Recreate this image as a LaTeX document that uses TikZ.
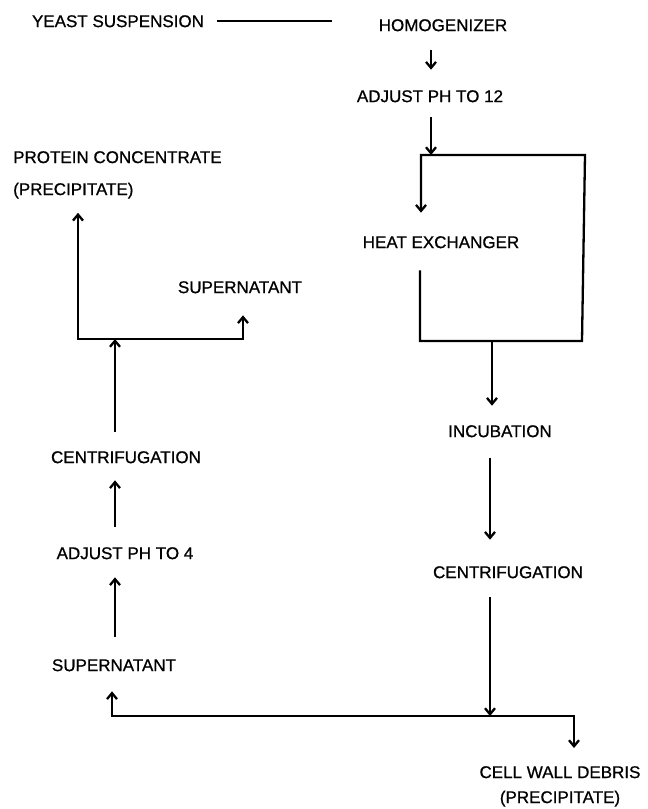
\documentclass[tikz,border=0pt]{standalone}
\usepackage{fontspec}
\setmainfont{Liberation Sans}
\newfontfamily\procfont{Liberation Sans}[FakeBold=0.8]
\usetikzlibrary{arrows.meta}

\begin{document}
\begin{tikzpicture}[
  x=1pt, y=-1pt,
  hd/.tip={Straight Barb[length=6pt,width=10pt]},
  lbl/.style={inner sep=3pt, font=\procfont\fontsize{17}{32}\selectfont,
    text height=12.2pt, text depth=0pt},
  lbl2/.style={inner sep=3pt, font=\procfont\fontsize{17}{32}\selectfont},
  ln/.style={line width=2.3pt},
  arr/.style={ln, -hd},
  dbl/.style={ln, hd-hd}
]
\useasboundingbox (0,0) rectangle (648,809);

% process steps
\node[lbl] (yeast) at (118,21) {YEAST SUSPENSION};
\node[lbl] (homog) at (443,25) {HOMOGENIZER};
\node[lbl] (adj12) at (430,96) {ADJUST PH TO 12};
\node[lbl] (heat) at (441,242) {HEAT EXCHANGER};
\node[lbl] (incub) at (500,431) {INCUBATION};
\node[lbl] (centR) at (508,572) {CENTRIFUGATION};
\node[lbl2, align=center, anchor=north, font=\procfont\fontsize{17}{25}\selectfont]
  (cwd) at (560,763) {CELL WALL DEBRIS\\(PRECIPITATE)};
\node[lbl] (supL) at (114,665) {SUPERNATANT};
\node[lbl] (adj4) at (125,553) {ADJUST PH TO 4};
\node[lbl] (centL) at (126,457) {CENTRIFUGATION};
\node[lbl] (supU) at (240,287) {SUPERNATANT};
\node[lbl2, align=left, anchor=north west] (protein) at (10,148) {PROTEIN CONCENTRATE\\(PRECIPITATE)};

% right column
\draw[ln, shorten <=10pt, shorten >=44pt] (yeast.east) -- (yeast.east -| homog.west);
\coordinate (rx) at (431,0);
\draw[arr, shorten <=16pt, shorten >=17pt] (rx |- homog.south) -- (rx |- adj12.north);
\coordinate (hxtl) at (421,155);
\coordinate (hxtr) at (585,155);
\coordinate (hxbr) at (582,341);
\coordinate (hxbl) at (420,341);
\draw[arr, shorten <=12pt] (rx |- adj12.south) -- (rx |- hxtl);
\draw[arr, shorten <=19pt, shorten >=20pt] (hxbl |- heat.south) -- (hxbl) -- (hxbr) -- (hxtr) -- (hxtl) -- (hxtl |- heat.north);
\coordinate (hxo) at (492,341);
\draw[arr, shorten >=16pt] (hxo) -- (hxo |- incub.north);
\coordinate (split) at (490,716);
\draw[arr, shorten <=18pt, shorten >=23pt] (split |- incub.south) -- (split |- centR.north);
\draw[arr, shorten <=16pt] (split |- centR.south) -- (split);
\coordinate (splitL) at (112,716);
\coordinate (splitR) at (574,716);
\draw[dbl, shorten <=17pt, shorten >=15pt] (splitL |- supL.south) -- (splitL) -- (splitR) -- (splitR |- cwd.north);

% left column
\coordinate (lx) at (115,0);
\foreach \a/\b/\s/\e in {supL/adj4/19pt/15pt, adj4/centL/17pt/14pt}
  \draw[arr, shorten <=\s, shorten >=\e] (lx |- \a.north) -- (lx |- \b.south);
\coordinate (pjl) at (78,339);
\coordinate (pjr) at (243,339);
\draw[arr, shorten <=16pt] (lx |- centL.north) -- (lx |- pjl);
\draw[dbl, shorten <=11pt, shorten >=19pt] (pjl |- protein.south) -- (pjl) -- (pjr) -- (pjr |- supU.south);

\end{tikzpicture}
\end{document}
